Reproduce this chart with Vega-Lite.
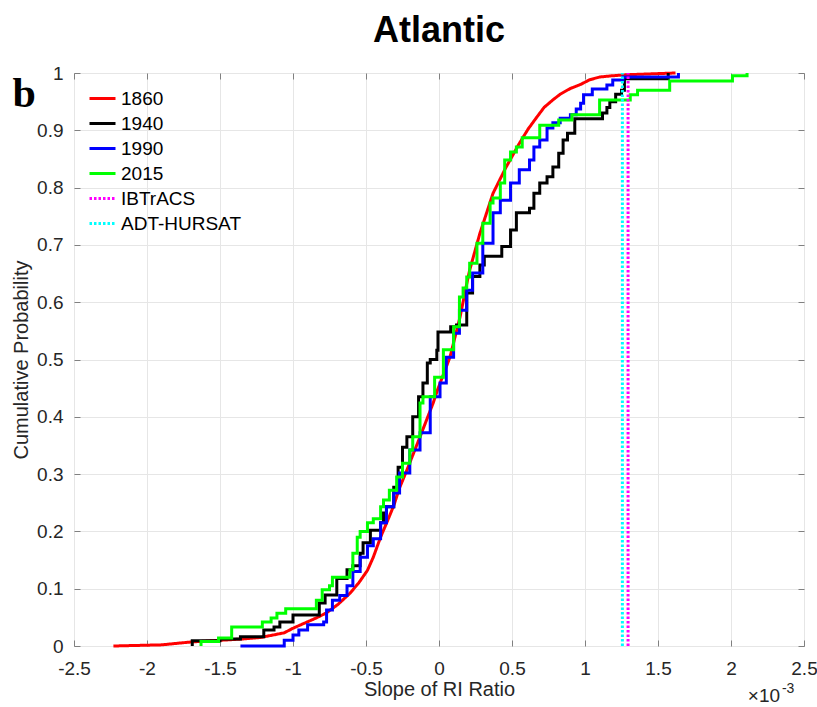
{
  "$schema": "https://vega.github.io/schema/vega-lite/v6.json",
  "width": 730,
  "height": 573,
  "autosize": "none",
  "padding": {"left": 74, "top": 73, "right": 13, "bottom": 61},
  "background": "white",
  "title": {"text": "Atlantic", "font": "Liberation Sans", "fontSize": 36, "fontWeight": "bold", "color": "#000000", "anchor": "middle", "offset": 14},
  "datasets": {
    "smooth": [
      {"series": "1860", "x": -2.23, "p": 0},
      {"series": "1860", "x": -1.9, "p": 0.002},
      {"series": "1860", "x": -1.7, "p": 0.007},
      {"series": "1860", "x": -1.36, "p": 0.012},
      {"series": "1860", "x": -1.22, "p": 0.015},
      {"series": "1860", "x": -1.06, "p": 0.023},
      {"series": "1860", "x": -1.0, "p": 0.031},
      {"series": "1860", "x": -0.92, "p": 0.04},
      {"series": "1860", "x": -0.84, "p": 0.049},
      {"series": "1860", "x": -0.77, "p": 0.058},
      {"series": "1860", "x": -0.69, "p": 0.073},
      {"series": "1860", "x": -0.61, "p": 0.092},
      {"series": "1860", "x": -0.55, "p": 0.11},
      {"series": "1860", "x": -0.49, "p": 0.132},
      {"series": "1860", "x": -0.45, "p": 0.155},
      {"series": "1860", "x": -0.4, "p": 0.19},
      {"series": "1860", "x": -0.35, "p": 0.22},
      {"series": "1860", "x": -0.31, "p": 0.245},
      {"series": "1860", "x": -0.27, "p": 0.276},
      {"series": "1860", "x": -0.22, "p": 0.307},
      {"series": "1860", "x": -0.13, "p": 0.365},
      {"series": "1860", "x": -0.04, "p": 0.424},
      {"series": "1860", "x": -0.01, "p": 0.447},
      {"series": "1860", "x": 0.075, "p": 0.504},
      {"series": "1860", "x": 0.144, "p": 0.574},
      {"series": "1860", "x": 0.19, "p": 0.632},
      {"series": "1860", "x": 0.21, "p": 0.656},
      {"series": "1860", "x": 0.28, "p": 0.72},
      {"series": "1860", "x": 0.37, "p": 0.79},
      {"series": "1860", "x": 0.46, "p": 0.836},
      {"series": "1860", "x": 0.55, "p": 0.877},
      {"series": "1860", "x": 0.61, "p": 0.902},
      {"series": "1860", "x": 0.67, "p": 0.923},
      {"series": "1860", "x": 0.72, "p": 0.94},
      {"series": "1860", "x": 0.78, "p": 0.953},
      {"series": "1860", "x": 0.83, "p": 0.963},
      {"series": "1860", "x": 0.9, "p": 0.973},
      {"series": "1860", "x": 0.97, "p": 0.98},
      {"series": "1860", "x": 1.03, "p": 0.988},
      {"series": "1860", "x": 1.1, "p": 0.993},
      {"series": "1860", "x": 1.18, "p": 0.995},
      {"series": "1860", "x": 1.29, "p": 0.997},
      {"series": "1860", "x": 1.62, "p": 1.0}
    ],
    "steps": [
      {"series": "1940", "x": -1.69, "p": 0},
      {"series": "1940", "x": -1.69, "p": 0.009},
      {"series": "1940", "x": -1.5, "p": 0.012},
      {"series": "1940", "x": -1.36, "p": 0.016},
      {"series": "1940", "x": -1.2, "p": 0.028},
      {"series": "1940", "x": -1.13, "p": 0.033},
      {"series": "1940", "x": -1.09, "p": 0.042},
      {"series": "1940", "x": -1.0, "p": 0.054},
      {"series": "1940", "x": -0.82, "p": 0.075},
      {"series": "1940", "x": -0.78, "p": 0.089},
      {"series": "1940", "x": -0.7, "p": 0.118},
      {"series": "1940", "x": -0.63, "p": 0.133},
      {"series": "1940", "x": -0.59, "p": 0.14},
      {"series": "1940", "x": -0.54, "p": 0.162},
      {"series": "1940", "x": -0.52, "p": 0.18},
      {"series": "1940", "x": -0.47, "p": 0.202},
      {"series": "1940", "x": -0.4, "p": 0.215},
      {"series": "1940", "x": -0.38, "p": 0.232},
      {"series": "1940", "x": -0.36, "p": 0.243},
      {"series": "1940", "x": -0.31, "p": 0.277},
      {"series": "1940", "x": -0.28, "p": 0.312},
      {"series": "1940", "x": -0.25, "p": 0.347},
      {"series": "1940", "x": -0.22, "p": 0.365},
      {"series": "1940", "x": -0.18, "p": 0.4},
      {"series": "1940", "x": -0.14, "p": 0.435},
      {"series": "1940", "x": -0.11, "p": 0.459},
      {"series": "1940", "x": -0.08, "p": 0.494},
      {"series": "1940", "x": -0.06, "p": 0.5},
      {"series": "1940", "x": -0.015, "p": 0.516},
      {"series": "1940", "x": -0.007, "p": 0.548},
      {"series": "1940", "x": 0.08, "p": 0.557},
      {"series": "1940", "x": 0.12, "p": 0.56},
      {"series": "1940", "x": 0.19, "p": 0.616},
      {"series": "1940", "x": 0.23, "p": 0.645},
      {"series": "1940", "x": 0.28, "p": 0.665},
      {"series": "1940", "x": 0.31, "p": 0.68},
      {"series": "1940", "x": 0.43, "p": 0.697},
      {"series": "1940", "x": 0.49, "p": 0.726},
      {"series": "1940", "x": 0.53, "p": 0.756},
      {"series": "1940", "x": 0.62, "p": 0.764},
      {"series": "1940", "x": 0.65, "p": 0.79},
      {"series": "1940", "x": 0.69, "p": 0.808},
      {"series": "1940", "x": 0.74, "p": 0.819},
      {"series": "1940", "x": 0.78, "p": 0.836},
      {"series": "1940", "x": 0.82, "p": 0.86},
      {"series": "1940", "x": 0.85, "p": 0.883},
      {"series": "1940", "x": 0.88, "p": 0.895},
      {"series": "1940", "x": 0.93, "p": 0.92},
      {"series": "1940", "x": 1.12, "p": 0.93},
      {"series": "1940", "x": 1.15, "p": 0.94},
      {"series": "1940", "x": 1.17, "p": 0.95},
      {"series": "1940", "x": 1.21, "p": 0.963},
      {"series": "1940", "x": 1.25, "p": 0.97},
      {"series": "1940", "x": 1.27, "p": 0.99},
      {"series": "1940", "x": 1.57, "p": 0.998},
      {"series": "1940", "x": 1.57, "p": 1.0},
      {"series": "1990", "x": -1.36, "p": 0},
      {"series": "1990", "x": -1.06, "p": 0.01},
      {"series": "1990", "x": -1.0, "p": 0.019},
      {"series": "1990", "x": -0.96, "p": 0.028},
      {"series": "1990", "x": -0.9, "p": 0.037},
      {"series": "1990", "x": -0.79, "p": 0.042},
      {"series": "1990", "x": -0.77, "p": 0.063},
      {"series": "1990", "x": -0.73, "p": 0.08},
      {"series": "1990", "x": -0.68, "p": 0.088},
      {"series": "1990", "x": -0.63, "p": 0.105},
      {"series": "1990", "x": -0.59, "p": 0.13},
      {"series": "1990", "x": -0.54, "p": 0.155},
      {"series": "1990", "x": -0.49, "p": 0.175},
      {"series": "1990", "x": -0.45, "p": 0.187},
      {"series": "1990", "x": -0.4, "p": 0.215},
      {"series": "1990", "x": -0.36, "p": 0.243},
      {"series": "1990", "x": -0.31, "p": 0.267},
      {"series": "1990", "x": -0.27, "p": 0.302},
      {"series": "1990", "x": -0.2, "p": 0.342},
      {"series": "1990", "x": -0.13, "p": 0.372},
      {"series": "1990", "x": -0.06, "p": 0.435},
      {"series": "1990", "x": 0.007, "p": 0.459},
      {"series": "1990", "x": 0.05, "p": 0.504},
      {"series": "1990", "x": 0.1, "p": 0.546},
      {"series": "1990", "x": 0.14, "p": 0.586},
      {"series": "1990", "x": 0.19, "p": 0.621},
      {"series": "1990", "x": 0.23, "p": 0.651},
      {"series": "1990", "x": 0.3, "p": 0.703},
      {"series": "1990", "x": 0.37, "p": 0.756},
      {"series": "1990", "x": 0.42, "p": 0.778},
      {"series": "1990", "x": 0.49, "p": 0.808},
      {"series": "1990", "x": 0.55, "p": 0.831},
      {"series": "1990", "x": 0.62, "p": 0.848},
      {"series": "1990", "x": 0.65, "p": 0.871},
      {"series": "1990", "x": 0.69, "p": 0.883},
      {"series": "1990", "x": 0.74, "p": 0.904},
      {"series": "1990", "x": 0.78, "p": 0.913},
      {"series": "1990", "x": 0.83, "p": 0.921},
      {"series": "1990", "x": 0.9, "p": 0.927},
      {"series": "1990", "x": 0.94, "p": 0.937},
      {"series": "1990", "x": 0.97, "p": 0.947},
      {"series": "1990", "x": 0.99, "p": 0.962},
      {"series": "1990", "x": 1.05, "p": 0.972},
      {"series": "1990", "x": 1.15, "p": 0.979},
      {"series": "1990", "x": 1.19, "p": 0.988},
      {"series": "1990", "x": 1.26, "p": 0.993},
      {"series": "1990", "x": 1.64, "p": 1.0},
      {"series": "2015", "x": -1.63, "p": 0},
      {"series": "2015", "x": -1.63, "p": 0.008},
      {"series": "2015", "x": -1.51, "p": 0.014},
      {"series": "2015", "x": -1.42, "p": 0.033},
      {"series": "2015", "x": -1.21, "p": 0.042},
      {"series": "2015", "x": -1.15, "p": 0.049},
      {"series": "2015", "x": -1.11, "p": 0.057},
      {"series": "2015", "x": -1.05, "p": 0.065},
      {"series": "2015", "x": -0.84, "p": 0.08},
      {"series": "2015", "x": -0.8, "p": 0.098},
      {"series": "2015", "x": -0.75, "p": 0.105},
      {"series": "2015", "x": -0.73, "p": 0.12},
      {"series": "2015", "x": -0.61, "p": 0.133},
      {"series": "2015", "x": -0.59, "p": 0.162},
      {"series": "2015", "x": -0.56, "p": 0.19},
      {"series": "2015", "x": -0.54, "p": 0.2},
      {"series": "2015", "x": -0.49, "p": 0.215},
      {"series": "2015", "x": -0.45, "p": 0.222},
      {"series": "2015", "x": -0.4, "p": 0.243},
      {"series": "2015", "x": -0.38, "p": 0.255},
      {"series": "2015", "x": -0.34, "p": 0.272},
      {"series": "2015", "x": -0.29, "p": 0.295},
      {"series": "2015", "x": -0.25, "p": 0.319},
      {"series": "2015", "x": -0.2, "p": 0.342},
      {"series": "2015", "x": -0.18, "p": 0.365},
      {"series": "2015", "x": -0.13, "p": 0.424},
      {"series": "2015", "x": -0.11, "p": 0.435},
      {"series": "2015", "x": -0.03, "p": 0.469},
      {"series": "2015", "x": 0.03, "p": 0.517},
      {"series": "2015", "x": 0.1, "p": 0.557},
      {"series": "2015", "x": 0.14, "p": 0.609},
      {"series": "2015", "x": 0.165, "p": 0.625},
      {"series": "2015", "x": 0.19, "p": 0.644},
      {"series": "2015", "x": 0.21, "p": 0.668},
      {"series": "2015", "x": 0.26, "p": 0.703},
      {"series": "2015", "x": 0.3, "p": 0.738},
      {"series": "2015", "x": 0.35, "p": 0.773},
      {"series": "2015", "x": 0.37, "p": 0.782},
      {"series": "2015", "x": 0.42, "p": 0.808},
      {"series": "2015", "x": 0.45, "p": 0.848},
      {"series": "2015", "x": 0.49, "p": 0.862},
      {"series": "2015", "x": 0.53, "p": 0.871},
      {"series": "2015", "x": 0.57, "p": 0.887},
      {"series": "2015", "x": 0.69, "p": 0.909},
      {"series": "2015", "x": 0.82, "p": 0.918},
      {"series": "2015", "x": 0.91, "p": 0.927},
      {"series": "2015", "x": 1.1, "p": 0.953},
      {"series": "2015", "x": 1.31, "p": 0.962},
      {"series": "2015", "x": 1.36, "p": 0.97},
      {"series": "2015", "x": 1.58, "p": 0.986},
      {"series": "2015", "x": 2.01, "p": 0.995},
      {"series": "2015", "x": 2.11, "p": 1.0},
      {"series": "IBTrACS", "x": 1.295, "p": 0},
      {"series": "IBTrACS", "x": 1.295, "p": 1},
      {"series": "ADT-HURSAT", "x": 1.256, "p": 0},
      {"series": "ADT-HURSAT", "x": 1.256, "p": 1}
    ]
  },
  "config": {
    "font": "Liberation Sans",
    "view": {"stroke": "#808080", "strokeWidth": 1},
    "axis": {
      "labelFont": "Liberation Sans", "labelFontSize": 19, "labelColor": "#262626",
      "titleFont": "Liberation Sans", "titleFontSize": 20, "titleFontWeight": "normal", "titleColor": "#262626",
      "domain": false, "tickColor": "#808080", "tickSize": -6, "tickWidth": 1,
      "gridColor": "#e6e6e6", "gridWidth": 1, "labelOverlap": false, "labelFlush": false
    },
    "legend": {
      "orient": "none", "legendX": 14, "legendY": 11, "padding": 0,
      "symbolType": "stroke", "symbolStrokeWidth": 3, "symbolSize": 676,
      "labelFont": "Liberation Sans", "labelFontSize": 19, "labelColor": "#000000",
      "labelOffset": 4, "rowPadding": -5, "labelLimit": 300
    }
  },
  "layer": [
    {
      "data": {"name": "smooth"},
      "mark": {"type": "line", "strokeWidth": 3, "interpolate": "linear"},
      "encoding": {
        "x": {"field": "x", "type": "quantitative", "scale": {"domain": [-2.5, 2.5], "nice": false, "zero": false},
              "axis": {"values": [-2.5, -2, -1.5, -1, -0.5, 0, 0.5, 1, 1.5, 2, 2.5], "grid": true, "title": "Slope of RI Ratio", "labelPadding": 19, "titlePadding": 1,
                       "labelExpr": "replace(format(datum.value, '.1~f'), '\u2212', '-')"}},
        "y": {"field": "p", "type": "quantitative", "scale": {"domain": [0, 1], "nice": false, "zero": false},
              "axis": {"values": [0, 0.1, 0.2, 0.3, 0.4, 0.5, 0.6, 0.7, 0.8, 0.9, 1], "grid": true, "title": "Cumulative Probability", "labelPadding": 17, "titlePadding": 5,
                       "labelExpr": "format(datum.value, '.1~f')"}},
        "color": {"field": "series", "type": "nominal", "title": null,
                  "scale": {"domain": ["1860", "1940", "1990", "2015", "IBTrACS", "ADT-HURSAT"], "range": ["#ff0000", "#000000", "#0000ff", "#00ff00", "#ff00ff", "#00ffff"]}},
        "strokeDash": {"field": "series", "type": "nominal", "title": null,
                       "scale": {"domain": ["1860", "1940", "1990", "2015", "IBTrACS", "ADT-HURSAT"], "range": [[1, 0], [1, 0], [1, 0], [1, 0], [2.5, 2], [2.5, 2]]}},
        "order": {"field": "p", "type": "quantitative"}
      }
    },
    {
      "data": {"name": "steps"},
      "mark": {"type": "line", "strokeWidth": 3, "interpolate": "step-after"},
      "encoding": {
        "x": {"field": "x", "type": "quantitative", "scale": {"domain": [-2.5, 2.5], "nice": false, "zero": false}, "axis": null},
        "y": {"field": "p", "type": "quantitative", "scale": {"domain": [0, 1], "nice": false, "zero": false}, "axis": null},
        "color": {"field": "series", "type": "nominal", "title": null,
                  "scale": {"domain": ["1860", "1940", "1990", "2015", "IBTrACS", "ADT-HURSAT"], "range": ["#ff0000", "#000000", "#0000ff", "#00ff00", "#ff00ff", "#00ffff"]}},
        "strokeDash": {"field": "series", "type": "nominal", "title": null,
                       "scale": {"domain": ["1860", "1940", "1990", "2015", "IBTrACS", "ADT-HURSAT"], "range": [[1, 0], [1, 0], [1, 0], [1, 0], [2.5, 2], [2.5, 2]]}},
        "order": {"field": "p", "type": "quantitative"}
      }
    },
    {
      "data": {"values": [{}]},
      "mark": {"type": "text", "text": "b", "font": "Liberation Serif", "fontWeight": "bold", "fontSize": 42, "align": "center", "baseline": "alphabetic", "color": "#000000"},
      "encoding": {
        "x": {"datum": -2.842, "type": "quantitative", "scale": {"domain": [-2.5, 2.5], "nice": false, "zero": false},
              "axis": {"orient": "top", "values": [-2.5, -2, -1.5, -1, -0.5, 0, 0.5, 1, 1.5, 2, 2.5], "labels": false, "grid": false, "title": null}},
        "y": {"datum": 0.9407, "type": "quantitative", "scale": {"domain": [0, 1], "nice": false, "zero": false},
              "axis": {"orient": "right", "values": [0, 0.1, 0.2, 0.3, 0.4, 0.5, 0.6, 0.7, 0.8, 0.9, 1], "labels": false, "grid": false, "title": null}}
      }
    },
    {
      "data": {"values": [{}]},
      "mark": {"type": "text", "text": "×10", "font": "Liberation Sans", "fontSize": 19, "align": "right", "baseline": "alphabetic", "color": "#262626"},
      "encoding": {
        "x": {"datum": 2.336, "type": "quantitative", "axis": null},
        "y": {"datum": -0.0977, "type": "quantitative", "axis": null}
      }
    },
    {
      "data": {"values": [{}]},
      "mark": {"type": "text", "text": "-3", "font": "Liberation Sans", "fontSize": 14, "align": "left", "baseline": "alphabetic", "color": "#262626"},
      "encoding": {
        "x": {"datum": 2.349, "type": "quantitative", "axis": null},
        "y": {"datum": -0.082, "type": "quantitative", "axis": null}
      }
    }
  ],
  "resolve": {"axis": {"x": "independent", "y": "independent"}}
}
